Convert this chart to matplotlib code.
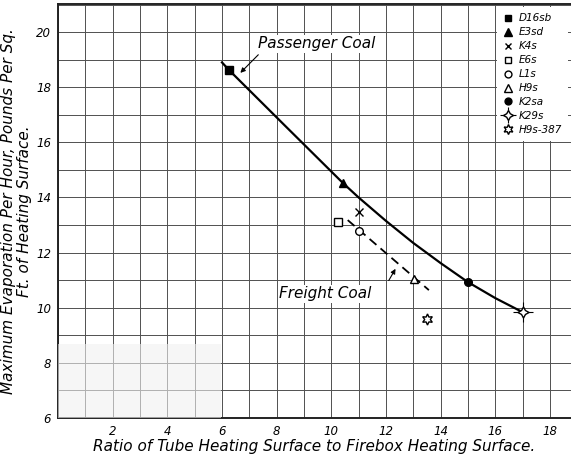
import matplotlib
matplotlib.use('Agg')
import matplotlib.pyplot as plt
from matplotlib.patches import Rectangle
from matplotlib.lines import Line2D

# Locomotive classes, ratio of tube to firebox heating surface, max evaporation
classes = ['D16sb', 'E3sd', 'K4s', 'E6s', 'L1s', 'H9s', 'K2sa', 'K29s', 'H9s-387']
ratio = [6.26, 10.43, 11.0, 10.24, 11.0, 13.03, 15.0, 17.0, 13.5]
evaporation = [18.62, 14.52, 13.47, 13.11, 12.78, 11.04, 10.93, 9.84, 9.6]

# Curves as drawn on the sheet
passenger_x = [6.0, 6.26, 8.3, 10.43, 11.0, 12.0, 13.0, 14.0, 15.0, 16.0, 17.0]
passenger_y = [18.9, 18.62, 16.61, 14.52, 14.0, 13.15, 12.35, 11.62, 10.93, 10.35, 9.84]
freight_x = [10.6, 13.57]
freight_y = [13.18, 10.64]

plt.rcParams['font.family'] = 'DejaVu Sans'
plt.rcParams['font.style'] = 'italic'

fig = plt.figure(figsize=(5.71, 4.59), dpi=100)
ax = fig.add_axes([0.1016, 0.0893, 0.8984, 0.902])
ax.set_xlim(0, 18.77)
ax.set_ylim(6, 21.02)

# grid at every unit
ax.set_xticks(range(0, 19), minor=True)
ax.set_yticks(range(6, 22), minor=True)
ax.set_xticks(range(2, 19, 2))
ax.set_yticks(range(6, 21, 2))
ax.grid(which='both', color='#505050', linewidth=0.7)
ax.tick_params(which='both', length=0, labelsize=8.5, pad=5)
for lbl in ax.get_xticklabels() + ax.get_yticklabels():
    lbl.set_fontstyle('italic')

for s in ['left', 'bottom', 'top']:
    ax.spines[s].set_linewidth(1.4)
    ax.spines[s].set_color('#222222')
ax.spines['right'].set_visible(False)

# faded patch of the scan in the lower left
ax.add_patch(Rectangle((0, 6), 5.95, 2.68, facecolor='#f0f0f0', alpha=0.6,
                       edgecolor='none', zorder=10))

ax.plot(passenger_x, passenger_y, color='black', lw=1.6, zorder=3)
ax.plot(freight_x, freight_y, color='black', lw=1.3, dashes=(5, 3), zorder=3)

styles = [
    dict(marker='s', mfc='black', markersize=5.5),
    dict(marker='^', mfc='black', markersize=6),
    dict(marker='x', markersize=5.5),
    dict(marker='s', mfc='white', markersize=5.5),
    dict(marker='o', mfc='white', markersize=5.5),
    dict(marker='^', mfc='white', markersize=6),
    dict(marker='o', mfc='black', markersize=5.5),
    dict(marker=(4, 1, 0), mfc='white', markersize=8),
    dict(marker=(6, 1, 0), mfc='white', markersize=8),
]
handles = []
for i in range(len(classes)):
    ax.plot(ratio[i], evaporation[i], linestyle='none', color='black', mec='black',
            mew=1.0, zorder=5, **styles[i])
    st = dict(styles[i])
    st['markersize'] = st['markersize'] * 0.9
    h = Line2D([], [], linestyle='none', color='black', mec='black', mew=1.0, **st)
    if classes[i] == 'K29s':
        ax.plot(ratio[i], evaporation[i], marker='+', color='black',
                markersize=15, mew=0.8, zorder=4)
        h = (Line2D([], [], marker='+', linestyle='none', color='black', markersize=11, mew=0.8), h)
    handles.append(h)

leg = ax.legend(handles, classes, loc='upper right', bbox_to_anchor=(1.0, 1.0),
                fontsize=7.5, handlelength=0.9, handletextpad=0.5, labelspacing=0.38,
                borderpad=0.6, borderaxespad=0.3, frameon=True, fancybox=False,
                framealpha=1, facecolor='white', edgecolor='none')
for t in leg.get_texts():
    t.set_fontstyle('italic')
leg.set_zorder(6)

box = dict(facecolor='white', edgecolor='none', pad=1)
ax.text(7.3, 19.57, 'Passenger Coal', fontsize=11, va='center', ha='left',
        bbox=box, zorder=6)
ax.annotate('', xy=(6.6, 18.45), xytext=(7.4, 19.25),
            arrowprops=dict(arrowstyle='-|>', color='black', lw=0.8,
                            mutation_scale=7), zorder=6)
ax.text(8.1, 10.5, 'Freight Coal', fontsize=11, va='center', ha='left',
        bbox=box, zorder=6)
ax.annotate('', xy=(12.4, 11.5), xytext=(12.05, 10.9),
            arrowprops=dict(arrowstyle='-|>', color='black', lw=0.8,
                            mutation_scale=7), zorder=6)

ax.set_xlabel('Ratio of Tube Heating Surface to Firebox Heating Surface.',
              fontsize=11, labelpad=1)
ax.set_ylabel('Maximum Evaporation Per Hour, Pounds Per Sq.\nFt. of Heating Surface.',
              fontsize=11, labelpad=3, linespacing=1.05)

fig.savefig('out.png', dpi=100)
